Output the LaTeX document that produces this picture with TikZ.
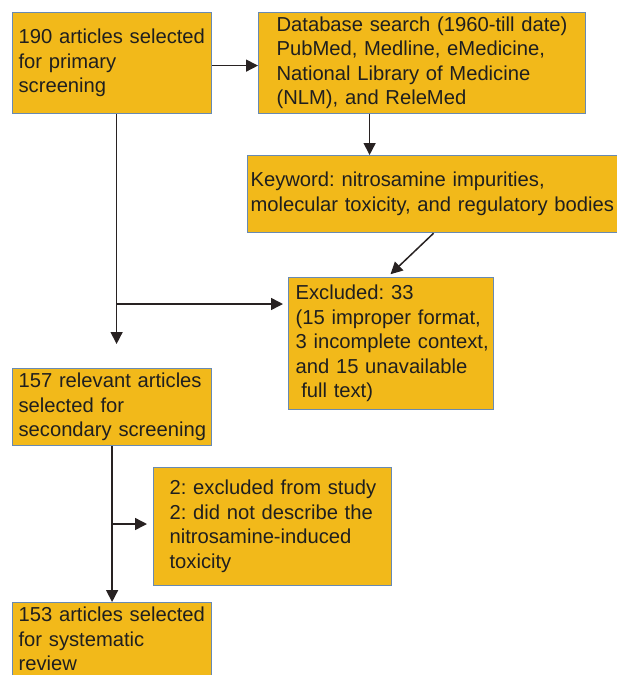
\documentclass[tikz,border=0pt]{standalone}
\usepackage{fontspec}
\setmainfont{Liberation Sans}
\usetikzlibrary{arrows.meta}
\definecolor{boxfill}{RGB}{242,185,26}
\definecolor{boxline}{RGB}{104,138,178}
\definecolor{arrline}{RGB}{40,34,34}
\newcommand{\boxlines}[1]{\begin{tabular}{@{}l@{}}#1\end{tabular}}
\tikzset{
  flowbox/.style={draw=boxline, line width=1.2pt, fill=boxfill, anchor=north west,
    align=left, inner ysep=0pt, text=black!88,
    font=\fontsize{20.2}{24.5}\selectfont\frenchspacing},
  arr/.style={draw=arrline, line width=1.5pt, -{Triangle[length=12pt,width=12pt]}}
}
\begin{document}
\begin{tikzpicture}[x=1pt,y=-1pt]
  \path[use as bounding box, clip] (0,0) rectangle (617,675);
  \node[flowbox, minimum width=199pt, minimum height=101pt, text width=187pt, inner xsep=6pt] (prim) at (12,12)
    {\boxlines{190 articles selected\\for primary\\screening}};
  \node[flowbox, minimum width=327pt, minimum height=101pt, text width=291pt, inner xsep=18pt] (dbase) at (258,12)
    {\boxlines{Database search (1960-till date)\\PubMed, Medline, eMedicine,\\National Library of Medicine\\(NLM), and ReleMed}};
  \node[flowbox, minimum width=380pt, minimum height=77pt, text width=374pt, inner xsep=3pt] (kw) at (247,155)
    {\boxlines{Keyword: nitrosamine impurities,\\molecular toxicity, and regulatory bodies}};
  \node[flowbox, minimum width=205pt, minimum height=132pt, text width=191pt, inner xsep=7pt] (excl) at (288,277)
    {\boxlines{Excluded: 33\\(15 improper format,\\3 incomplete context,\\and 15 unavailable\\\hspace*{0.28em}full text)}};
  \node[flowbox, minimum width=199pt, minimum height=77pt, text width=187pt, inner xsep=6pt] (rel) at (12,368)
    {\boxlines{157 relevant articles\\selected for\\secondary screening}};
  \node[flowbox, minimum width=238pt, minimum height=118pt, text width=206pt, inner xsep=16pt] (drop) at (153,467)
    {\boxlines{2: excluded from study\\2: did not describe the\\nitrosamine-induced\\toxicity}};
  \node[flowbox, minimum width=199pt, minimum height=77pt, text width=187pt, inner xsep=6pt] (sys) at (12,602)
    {\boxlines{153 articles selected\\for systematic\\review}};
  % connectors
  \draw[arr] ([yshift=-2.5pt]prim.east) -- ([yshift=-2.5pt]prim.east -| dbase.west);
  \draw[arr] ([xshift=-52.5pt]dbase.south) -- ([xshift=-52.5pt]dbase.south |- kw.north);
  \draw[arr, shorten >=4pt] ([xshift=-4pt]kw.south) -- ([xshift=-3.5pt]excl.north);
  \draw[arr, shorten >=24pt] ([xshift=4.5pt]prim.south) -- ([xshift=4.5pt]prim.south |- rel.north);
  \coordinate (split1) at (116,304);
  \draw[arr, shorten >=5pt] (split1) -- (split1 -| excl.west);
  \draw[arr] (rel.south) -- (sys.north);
  \coordinate (split2) at (112,524);
  \draw[arr, shorten >=6pt] (split2) -- (split2 -| drop.west);
\end{tikzpicture}
\end{document}
